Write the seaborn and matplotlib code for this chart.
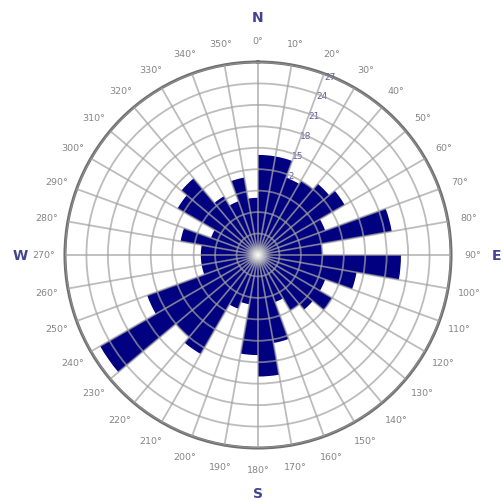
import numpy as np
import matplotlib
matplotlib.use("Agg")
import matplotlib.pyplot as plt
import seaborn as sns

# Sector start bearings (degrees, clockwise from north) and frequencies
directions = [0, 10, 20, 30, 40, 50, 60, 70, 80, 90, 100, 110,
              120, 130, 140, 150, 160, 170, 180, 190, 200, 210, 220, 230,
              240, 250, 260, 270, 280, 290, 300, 310, 320, 330, 340, 350]
frequency = [14, 14, 11.5, 12, 13, 14, 10, 19, 9, 20, 14, 10,
             12, 10, 9, 7, 12.5, 17, 14, 7, 8, 16, 15, 25.5,
             16.5, 8, 8, 8, 11, 7, 13, 14, 9.5, 8, 11, 8]
radial_ticks = [3, 6, 9, 12, 15, 18, 21, 24, 27]
radial_labels = ["3", "6", "9", "12", "15", "18", "21", "24", "27"]
angle_labels = [f"{d}°" for d in range(0, 360, 10)]
cardinals = ["N", "E", "S", "W"]
cardinal_angles = [0, 90, 180, 270]

sns.set_style("white")
plt.rcParams["font.family"] = ["DejaVu Sans"]

bar_color = "#000080"
fig = plt.figure(figsize=(5.04, 5.02), dpi=100)
ax = fig.add_axes([65 / 504, 53 / 502, 386 / 504, 386 / 502], projection="polar")
ax.set_theta_zero_location("N")
ax.set_theta_direction(-1)

ax.bar(np.deg2rad(directions), frequency, width=np.deg2rad(10), align="edge",
       color=bar_color, edgecolor="none", linewidth=0, zorder=1)

ax.set_ylim(0, 27)
ax.set_axisbelow(False)
ax.set_thetagrids(range(0, 360, 10), labels=[""] * 36)
ax.set_rgrids(radial_ticks, labels=[""] * len(radial_ticks))
ax.grid(True, color="#a0a0a0", alpha=0.7, linewidth=1.3)
ax.spines["polar"].set_color("#707070")
ax.spines["polar"].set_linewidth(2.2)
ax.tick_params(pad=0, length=0)

# radial scale labels along the 22° bearing, tucked beneath the bars
for r, lab in zip(radial_ticks, radial_labels):
    ax.text(np.deg2rad(22), r, lab, ha="center", va="center", fontsize=6.5,
            color="#5a5aa8", zorder=0.9)

# bearing labels around the rim
for d, lab in zip(range(0, 360, 10), angle_labels):
    ax.text(np.deg2rad(d), 30, lab, ha="center", va="center", fontsize=6.8,
            color="#858585", clip_on=False)

for lab, d in zip(cardinals, cardinal_angles):
    ax.text(np.deg2rad(d), 33.3, lab, ha="center", va="center", fontsize=10,
            fontweight="bold", color="#43438f", clip_on=False)

# soft white glow at the hub
gax = fig.add_axes([(258 - 22) / 504, (502 - 256 - 22) / 502, 44 / 504, 44 / 502])
gax.axis("off")
yy, xx = np.mgrid[-22:22:88j, -22:22:88j]
dist = np.hypot(xx, yy)
glow = np.zeros((88, 88, 4))
glow[..., :3] = 1.0
glow[..., 3] = np.clip(1 - dist / 15, 0, 1) ** 1.6
gax.imshow(glow, extent=(-22, 22, -22, 22), interpolation="bilinear")

fig.savefig("out.png", dpi=100)
